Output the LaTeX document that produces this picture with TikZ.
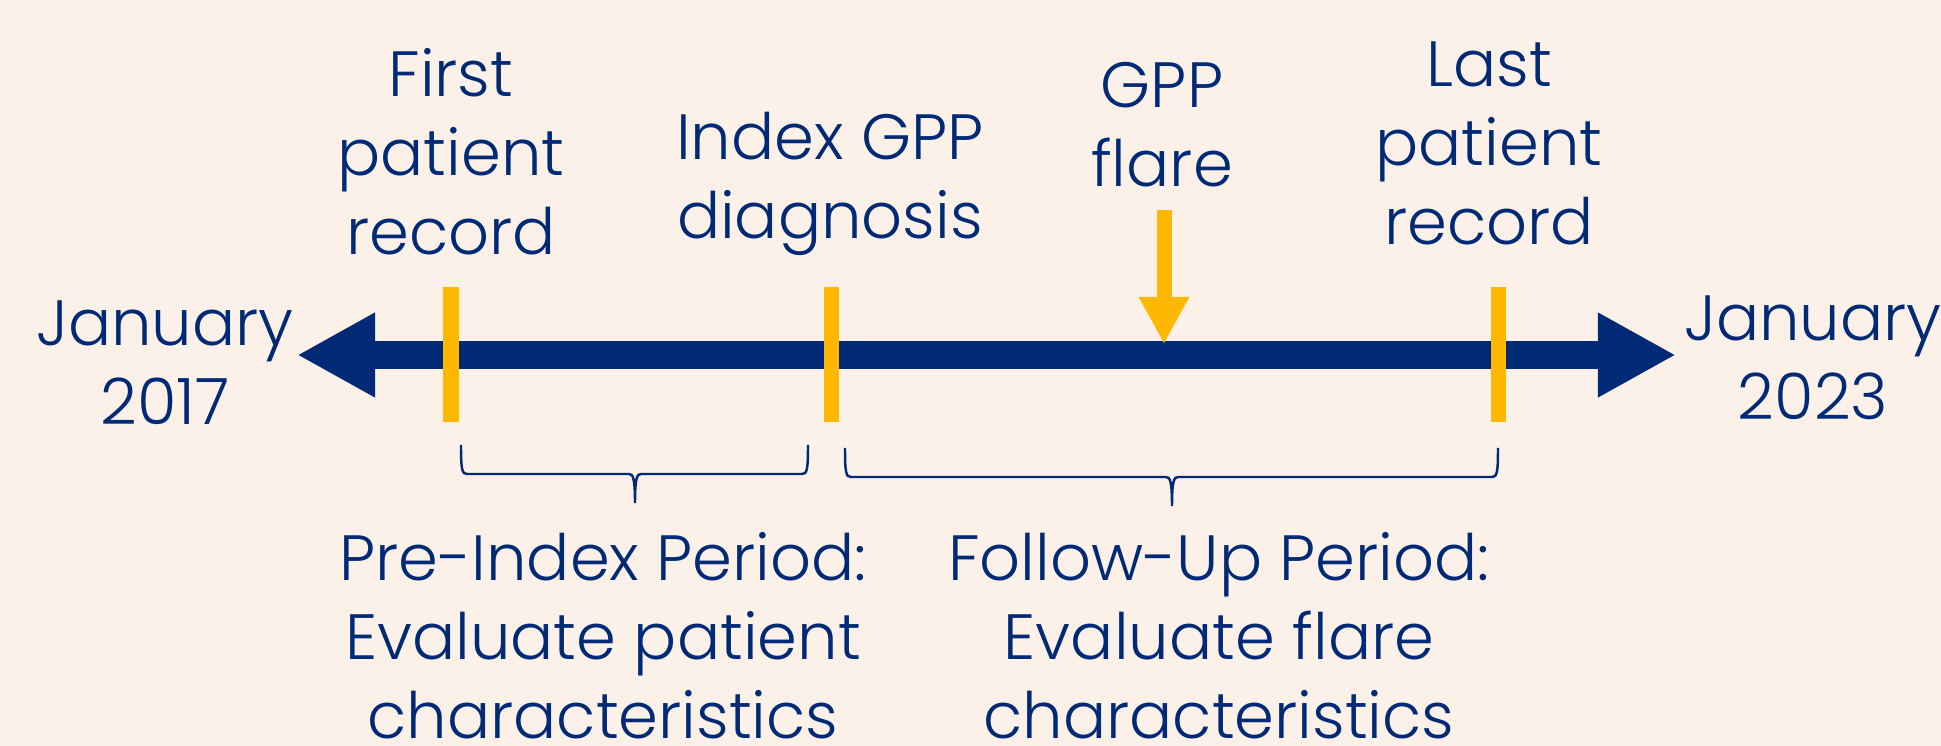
\documentclass[tikz,border=0pt]{standalone}
\usepackage{fontspec}
\setmainfont{Poppins}[UprightFont=* Light]
\usetikzlibrary{arrows.meta}
\definecolor{navy}{RGB}{0,42,117}
\definecolor{gold}{RGB}{255,183,0}
\definecolor{paper}{RGB}{252,241,233}

\begin{document}
\begin{tikzpicture}[x=0.01cm, y=-0.01cm,
    label text/.style={text=navy, align=center, inner sep=0pt, anchor=base,
        font=\fontsize{18.2pt}{22.5pt}\selectfont},
    event bar/.style={gold, line width=0.15cm},
    period brace/.style={navy, line width=0.7pt}]
    % Background
    \useasboundingbox (0,0) rectangle (1941,746);
    \fill[paper] (0,0) rectangle (1941,746);

    % Time line
    \coordinate (start) at (297,355);
    \coordinate (end) at (1676,355);
    \draw[navy, line width=0.27cm,
        {Triangle[length=0.78cm,width=0.79cm]}-{Triangle[length=0.78cm,width=0.79cm]}] (start) -- (end);
    \node[label text] (jan17) at (165,425) {January\\2017};
    \node[label text] (jan23) at (1813,420) {January\\2023};

    % Event marks
    \draw[event bar] (451,287) -- (451,422);
    \draw[event bar] (831,287) -- (831,422);
    \draw[event bar] (1498,287) -- (1498,422);
    \node[label text] (first) at (451,255) {First\\patient\\record};
    \node[label text] (index) at (830,239) {Index GPP\\diagnosis};
    \node[label text] (last) at (1489,245) {Last\\patient\\record};

    % Flare arrow
    \node[label text] (flare) at (1162,187) {GPP\\flare};
    \coordinate (flare top) at (1164,210);
    \coordinate (flare tip) at (1164,344);
    \draw[gold, line width=0.15cm, -{Triangle[length=0.47cm,width=0.47cm]}] (flare top) -- (flare tip);

    % Periods
    \draw[period brace] (461,445) .. controls (461,470) and (462,474) .. (467,474) -- (629,474)
        .. controls (633,474) and (635,478) .. (635,503)
        .. controls (635,478) and (637,474) .. (641,474) -- (802,474)
        .. controls (807,474) and (808,470) .. (808,445);
    \draw[period brace] (845,448) .. controls (845,473) and (846,477) .. (851,477) -- (1166,477)
        .. controls (1170,477) and (1172,481) .. (1172,506)
        .. controls (1172,481) and (1174,477) .. (1178,477) -- (1492,477)
        .. controls (1497,477) and (1498,473) .. (1498,448);
    \node[label text] (pre) at (603,739) {Pre-Index Period:\\Evaluate patient\\characteristics};
    \node[label text] (follow) at (1219,739) {Follow-Up Period:\\Evaluate flare\\characteristics};
\end{tikzpicture}
\end{document}
